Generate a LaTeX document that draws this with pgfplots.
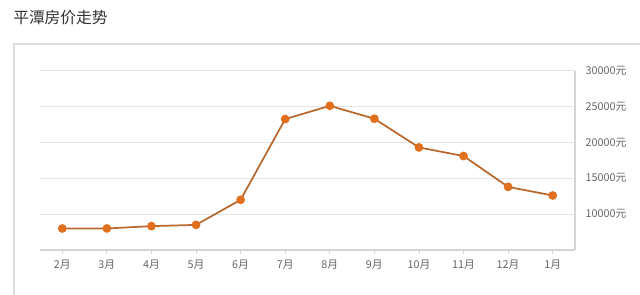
\documentclass[border=0pt]{standalone}
\usepackage{pgfplots}
\pgfplotsset{compat=1.18}
\usepackage{fontspec}
\setmainfont{Noto Sans CJK SC}
\definecolor{linec}{HTML}{B8682C}
\definecolor{markc}{HTML}{E0701E}
\definecolor{titlec}{HTML}{333333}
\definecolor{labc}{HTML}{666666}
\definecolor{gridc}{HTML}{E4E4E4}
\definecolor{axc}{HTML}{D4D4D4}
\definecolor{boxc}{HTML}{DDDDDD}
\begin{document}
\begin{tikzpicture}
\path[use as bounding box] (0,0) rectangle (480pt,220.5pt);
\clip (0,0) rectangle (480pt,220.5pt);
\draw[boxc, line width=0.8pt] (10.5pt,-20pt) rectangle (500pt,187.5pt);
\node[anchor=west, inner sep=0pt, text=titlec, font=\fontsize{11.8}{14}\selectfont] at (9.75pt,207pt) {平潭房价走势};
\begin{axis}[
  at={(30pt,33pt)}, anchor=south west,
  scale only axis, width=401.25pt, height=134.5pt,
  xmin=-0.5, xmax=11.5, ymin=5000, ymax=30000,
  axis x line*=bottom, axis y line*=right,
  axis line style={axc, line width=0.8pt, -},
  xtick={0,...,11},
  xticklabels={2月,3月,4月,5月,6月,7月,8月,9月,10月,11月,12月,1月},
  ytick={10000,15000,20000,25000,30000},
  scaled y ticks=false,
  yticklabel={\pgfmathprintnumber[1000 sep={},fixed,precision=0,assume math mode=true]{\tick}元},
  tick label style={text=labc, font=\fontsize{8.1}{10}\selectfont},
  /pgf/number format/assume math mode=true,
  tick align=outside,
  x tick style={axc, line width=0.6pt},
  major tick length=3pt,
  y tick style={draw=none},
  yticklabel style={xshift=1.5pt},
  xticklabel style={yshift=-1pt},
  ymajorgrids, grid style={gridc, line width=0.8pt},
  clip=false,
]
\addplot[linec, line width=1.3pt, mark=*, mark size=2.6pt,
  mark options={fill=markc, draw=markc}]
  coordinates {(0,8000) (1,8000) (2,8330) (3,8500) (4,12000) (5,23250)
  (6,25100) (7,23300) (8,19300) (9,18100) (10,13800) (11,12600)};
\end{axis}
\end{tikzpicture}
\end{document}
